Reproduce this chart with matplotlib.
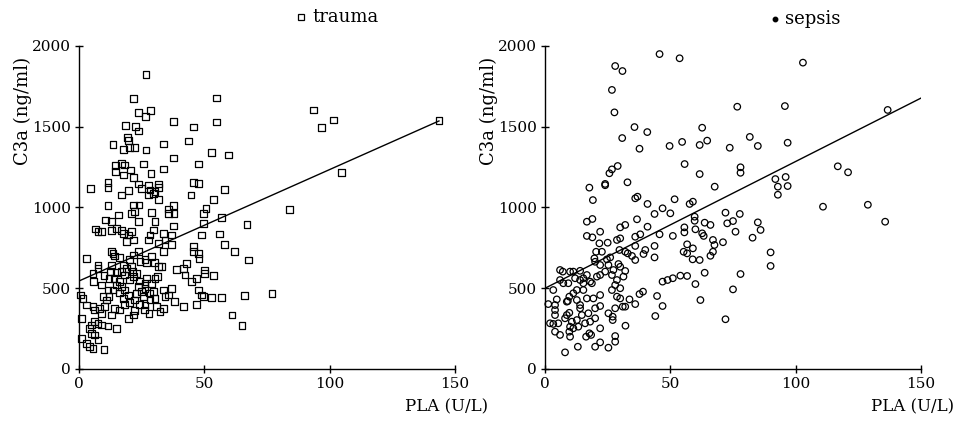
import matplotlib
matplotlib.use("Agg")
import matplotlib.pyplot as plt
from matplotlib.lines import Line2D
import numpy as np

plt.rcParams['font.family'] = ['DejaVu Serif', 'DejaVu Sans']

# trauma group: PLA (U/L) vs C3a (ng/ml)
trauma_pla = [
    26.7, 21.6, 54.7, 23.6, 28.6, 26.6, 37.6, 45.6, 54.7, 18.6, 22.6, 23.6, 19.5, 19.6, 13.6, 17.6,
    20.0, 22.0, 26.7, 33.6, 43.6, 52.7, 59.6, 37.8, 25.8, 14.7, 17.0, 18.0, 47.6, 33.7, 14.7, 17.6,
    20.7, 28.7, 21.7, 23.7, 27.7, 31.7, 25.0, 28.3, 30.3, 31.7, 45.7, 47.7, 57.9, 4.7, 11.6, 11.6,
    19.6, 17.0, 27.7, 29.6, 31.7, 44.7, 53.6, 11.6, 21.7, 23.9, 37.7, 50.7, 35.6,
    21.0, 22.0, 29.0, 35.6, 37.9, 49.6, 15.6, 10.7, 12.9, 23.7, 30.3, 37.7, 49.6, 56.7, 67.0, 6.7,
    7.6, 9.0, 13.0, 15.0, 17.0, 17.6, 21.0, 19.6, 29.6, 28.3, 27.6, 19.0, 21.9, 33.6, 37.0, 34.3,
    31.7, 37.0, 49.0, 55.9, 57.9, 13.0, 13.6, 14.3, 23.7, 21.9, 33.6, 29.0, 26.3, 24.3, 27.0, 45.7,
    45.7, 47.6, 47.9, 62.0, 67.6, 2.9, 7.6, 7.6, 5.6, 5.9, 12.7, 15.0, 17.6, 17.0, 21.0, 21.2,
    21.7, 18.3, 20.3, 31.7, 33.0, 30.3, 31.4, 39.0, 41.6, 43.0, 42.3, 45.0, 47.0, 50.0, 50.0, 53.6,
    37.0, 29.0, 26.3, 23.7, 47.6, 49.0, 49.6, 52.9, 57.0, 66.0, 77.0, 61.0, 65.0, 41.6, 47.0, 38.0,
    34.3, 30.3, 33.6, 28.3, 27.9, 25.6, 22.3, 21.7, 19.6, 16.3, 14.3, 13.0, 10.3, 11.0, 9.6, 11.6,
    13.6, 15.0, 17.0, 18.3, 19.6, 17.6, 22.9, 25.0, 26.3, 29.6, 33.6, 35.6, 26.3, 31.0, 32.3, 0.7,
    1.6, 2.9, 6.3, 5.6, 8.3, 9.0, 1.0, 6.3, 5.0, 4.3, 7.6, 9.0, 11.6, 15.0, 5.0, 6.3,
    1.0, 2.9, 4.3, 5.6, 7.6, 10.0,
    14.0, 16.0, 19.0, 23.0, 24.0, 12.0, 16.0, 20.0, 24.0, 18.0, 22.0, 26.0, 28.0, 12.0, 9.0, 10.0,
    27.0, 20.0, 16.0, 30.0, 13.0,
    93.6, 96.7, 101.6, 143.6, 104.7, 83.9,
]
trauma_c3a = [
    1825, 1676, 1678, 1587, 1602, 1562, 1531, 1498, 1529, 1509, 1500, 1474, 1432, 1414, 1391, 1360,
    1373, 1370, 1356, 1393, 1412, 1339, 1325, 1306, 1269, 1259, 1274, 1263, 1269, 1238, 1222, 1201,
    1232, 1212, 1185, 1146, 1139, 1146, 1119, 1108, 1098, 1125, 1156, 1150, 1113, 1117, 1154, 1125,
    1104, 1077, 1077, 1088, 1051, 1077, 1051, 1011, 1015, 1015, 1011, 995, 991,
    964, 974, 970, 964, 964, 964, 954, 923, 912, 912, 912, 885, 902, 939, 896, 867,
    850, 850, 856, 871, 856, 840, 850, 830, 861, 830, 799, 788, 799, 840, 830, 799,
    778, 772, 830, 836, 772, 726, 716, 700, 726, 706, 726, 696, 679, 664, 658, 757,
    726, 716, 685, 726, 675, 685, 644, 623, 593, 541, 603, 596, 644, 603, 633, 603,
    572, 582, 551, 633, 633, 562, 572, 617, 623, 654, 582, 541, 562, 613, 593, 578,
    500, 531, 531, 510, 489, 458, 448, 441, 441, 454, 469, 334, 268, 386, 400, 417,
    448, 437, 376, 427, 345, 448, 427, 334, 314, 365, 376, 334, 386, 427, 448, 489,
    489, 520, 510, 489, 458, 437, 469, 479, 500, 479, 489, 458, 396, 386, 355, 458,
    437, 396, 365, 386, 376, 345, 314, 293, 272, 252, 283, 272, 266, 252, 221, 211,
    190, 159, 138, 128, 180, 122,
    560, 540, 620, 590, 545, 450, 470, 410, 400, 400, 360, 365, 470, 560, 520, 580,
    560, 680, 690, 660, 640,
    1604, 1497, 1542, 1538, 1216, 989,
]

# sepsis group
sepsis_pla = [
    45.7, 53.7, 28.0, 30.9, 26.7, 27.7, 76.7, 35.7, 40.8, 62.7, 30.8, 37.7, 49.7, 54.7, 61.7, 64.7,
    73.7, 55.7, 29.0, 26.7, 25.7, 61.7, 78.0, 78.0, 32.9, 17.7, 24.0, 24.0, 67.7, 19.1, 36.0, 36.9,
    40.9, 51.7, 57.7, 59.0, 46.9,
    43.7, 50.0, 59.7, 59.7, 72.0, 77.7, 16.7, 18.9, 22.0, 32.0, 30.0, 36.7, 40.9, 55.6, 55.6, 60.0,
    63.7, 66.0, 62.7, 63.3, 72.7, 75.0, 76.0, 16.7, 18.9, 28.7, 30.0, 36.0, 38.0, 45.7, 51.0, 21.7,
    25.0, 36.0, 43.7, 56.7, 67.0, 67.6, 71.0, 20.4, 22.7, 29.7, 32.0, 33.0, 40.0, 43.7, 39.3, 55.3,
    59.0, 56.7, 58.9, 61.7, 67.0, 66.0, 36.0, 34.7, 19.7, 20.0, 22.0, 24.7, 26.0, 25.3, 29.3, 30.0,
    32.0, 27.3, 26.7, 24.0, 22.0, 20.7, 18.0, 18.7, 15.3, 14.0, 11.3, 10.0, 7.1, 6.0, 9.3, 12.0,
    15.3, 15.3, 12.7, 11.3, 9.7, 9.1, 12.7, 14.0, 14.0, 16.7, 19.3, 22.0, 22.0, 20.0, 17.3, 14.7,
    12.7, 10.7, 10.0, 9.7, 10.0, 11.3, 13.3, 16.0, 18.0, 20.0, 17.7, 16.4, 18.4, 13.1, 8.0, 20.0,
    22.0, 25.3, 28.0, 28.0, 22.0, 25.3, 27.0, 27.0, 28.0, 31.0, 32.0, 32.1, 30.0, 33.7, 36.0, 28.0,
    26.7, 30.0, 31.3, 28.7, 28.7, 37.7, 39.1, 44.7, 46.9, 44.0, 46.9, 48.9, 51.0, 54.0, 56.7, 60.0,
    63.7, 62.0, 72.0, 75.0, 78.0, 3.3, 1.3, 4.7, 4.0, 4.0, 4.0, 2.0, 3.3, 5.3, 4.0, 6.0,
    8.0, 8.7, 9.7, 8.7, 7.3, 6.0, 14.0, 16.7,
    102.9, 95.7, 136.7, 81.7, 84.9, 96.8, 91.9, 96.0, 92.9, 96.8, 92.9, 116.8, 120.9, 110.9, 128.8, 135.7,
    84.9, 86.0, 82.8, 90.0, 90.0,
]
sepsis_c3a = [
    1950, 1924, 1876, 1845, 1728, 1589, 1624, 1498, 1467, 1494, 1430, 1364, 1381, 1406, 1387, 1414,
    1370, 1269, 1257, 1236, 1212, 1207, 1249, 1215, 1156, 1123, 1146, 1138, 1129, 1046, 1057, 1067,
    1022, 1051, 1022, 1036, 995,
    960, 964, 943, 918, 968, 960, 912, 929, 850, 892, 877, 927, 881, 877, 846, 865,
    906, 892, 840, 824, 902, 916, 850, 824, 815, 799, 809, 819, 834, 834, 824, 778,
    782, 762, 762, 772, 799, 768, 785, 726, 726, 737, 726, 716, 737, 691, 712, 726,
    747, 716, 679, 675, 726, 701, 675, 700, 685, 664, 644, 679, 691, 644, 650, 633,
    607, 613, 582, 603, 582, 572, 541, 531, 562, 608, 603, 603, 603, 551, 531, 562,
    531, 489, 489, 469, 448, 421, 427, 396, 376, 437, 437, 458, 390, 376, 345, 334,
    303, 293, 262, 231, 200, 252, 262, 283, 293, 314, 221, 200, 211, 138, 103, 138,
    165, 132, 169, 204, 252, 345, 324, 303, 376, 386, 386, 268, 437, 431, 402, 520,
    489, 500, 572, 551, 448, 464, 479, 452, 390, 328, 541, 551, 562, 578, 576, 526,
    596, 427, 308, 493, 588, 489, 402, 431, 396, 365, 334, 283, 279, 283, 231, 211,
    314, 334, 348, 417, 531, 613, 551, 582,
    1897, 1628, 1604, 1437, 1381, 1401, 1176, 1189, 1129, 1133, 1079, 1255, 1218, 1005, 1017, 912,
    908, 861, 813, 722, 638,
]

# regression lines as drawn: (x start, x end), intercept, slope
trauma_fit = ((0, 143.6), 545, 6.9)
sepsis_fit = ((0, 150), 500, 7.85)

W, H = 955, 424
fig = plt.figure(figsize=(W / 100, H / 100), dpi=100)

def panel(left_px, xs, ys, marker, size, fit):
    ax = fig.add_axes([left_px / W, 55 / H, 376 / W, 323 / H])
    ax.scatter(xs, ys, marker=marker, s=size, facecolors='none',
               edgecolors='black', linewidths=0.9, clip_on=False, zorder=3)
    (x0, x1), b, m = fit
    xl = np.array([x0, x1])
    ax.plot(xl, b + m * xl, color='black', lw=1.0, zorder=2)
    ax.set_xlim(0, 150)
    ax.set_ylim(0, 2000)
    ax.set_xticks([0, 50, 100, 150])
    ax.set_yticks([0, 500, 1000, 1500, 2000])
    for s in ['top', 'right']:
        ax.spines[s].set_visible(False)
    for s in ['left', 'bottom']:
        ax.spines[s].set_linewidth(1.0)
    ax.tick_params(direction='inout', length=6, width=1.0, labelsize=11, pad=3)
    ax.set_ylabel('C3a (ng/ml)', fontsize=13)
    ax.yaxis.set_label_coords(-0.125, 0.8)
    ax.text(146.5, -0.118, 'PLA (U/L)', transform=ax.get_xaxis_transform(),
            ha='center', va='center', fontsize=12)
    return ax

panel(79, trauma_pla, trauma_c3a, 's', 24, trauma_fit)
panel(545, sepsis_pla, sepsis_c3a, 'o', 22, sepsis_fit)

# group keys above each panel
fig.add_artist(Line2D([301 / W], [1 - 17 / H], marker='s', markersize=5, markerfacecolor='none',
                      markeredgecolor='black', markeredgewidth=0.9, transform=fig.transFigure))
fig.text(312 / W, 1 - 17 / H, 'trauma', fontsize=13, va='center', ha='left')
fig.add_artist(Line2D([775 / W], [1 - 19 / H], marker='o', markersize=3.2, color='black',
                      transform=fig.transFigure))
fig.text(785 / W, 1 - 19 / H, 'sepsis', fontsize=13, va='center', ha='left')

fig.savefig('out.png', dpi=100)
